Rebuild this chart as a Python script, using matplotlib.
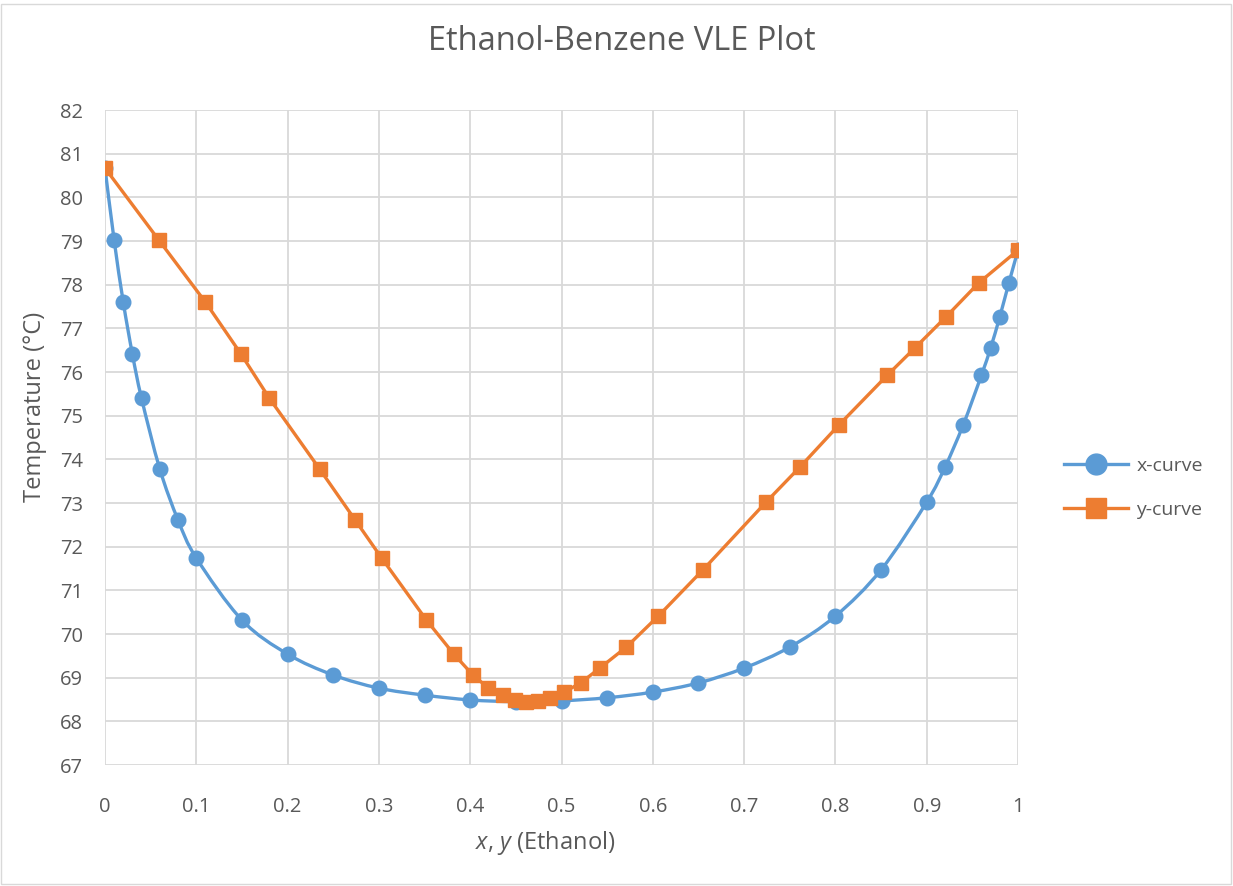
import numpy as np
import matplotlib
matplotlib.use("Agg")
import matplotlib.pyplot as plt
from matplotlib.path import Path
from matplotlib.patches import PathPatch, Rectangle
from matplotlib.lines import Line2D

plt.rcParams['font.family'] = ['Open Sans', 'DejaVu Sans']
plt.rcParams['mathtext.fontset'] = 'custom'
plt.rcParams['mathtext.it'] = 'Open Sans:italic'
plt.rcParams['mathtext.rm'] = 'Open Sans'

# data
x_liq = [0, 0.01, 0.02, 0.03, 0.04, 0.06, 0.08, 0.1, 0.15, 0.2, 0.25, 0.3, 0.35,
         0.4, 0.45, 0.5, 0.55, 0.6, 0.65, 0.7, 0.75, 0.8, 0.85, 0.9, 0.92, 0.94,
         0.96, 0.97, 0.98, 0.99, 1.0]
y_vap = [0, 0.059, 0.11, 0.149, 0.18, 0.235, 0.274, 0.303, 0.352, 0.382, 0.403,
         0.42, 0.436, 0.449, 0.461, 0.474, 0.487, 0.503, 0.521, 0.542, 0.571,
         0.606, 0.655, 0.724, 0.761, 0.804, 0.857, 0.887, 0.921, 0.957, 1.0]
temp = [80.67, 79.02, 77.6, 76.41, 75.4, 73.78, 72.61, 71.74, 70.32, 69.54,
        69.06, 68.76, 68.6, 68.49, 68.45, 68.47, 68.54, 68.67, 68.88, 69.22,
        69.7, 70.41, 71.47, 73.02, 73.82, 74.79, 75.93, 76.55, 77.26, 78.04, 78.79]
x_ticks = [0, 0.1, 0.2, 0.3, 0.4, 0.5, 0.6, 0.7, 0.8, 0.9, 1]
x_tick_labels = ['0', '0.1', '0.2', '0.3', '0.4', '0.5', '0.6', '0.7', '0.8', '0.9', '1']
y_ticks = list(range(67, 83))

blue = '#5B9BD5'
orange = '#ED7D31'
grey_txt = '#595959'


def smooth_path(xs, ys):
    # Excel-like smoothed line: Bezier segments with Catmull-Rom control points
    p = np.column_stack([xs, ys])
    n = len(p)
    verts = [p[0]]
    codes = [Path.MOVETO]
    for i in range(n - 1):
        p0 = p[i - 1] if i > 0 else p[i]
        p3 = p[i + 2] if i + 2 < n else p[i + 1]
        c1 = p[i] + (p[i + 1] - p0) / 6
        c2 = p[i + 1] - (p3 - p[i]) / 6
        verts += [c1, c2, p[i + 1]]
        codes += [Path.CURVE4] * 3
    return Path(verts, codes)


fig = plt.figure(figsize=(12.33, 8.86), dpi=100)
ax = fig.add_axes([105 / 1233, 1 - 765 / 886, 913 / 1233, 655 / 886])

ax.add_patch(PathPatch(smooth_path(x_liq, temp), facecolor='none', edgecolor=blue,
                       lw=2.4, zorder=3, capstyle='round'))
ax.plot(x_liq, temp, linestyle='none', marker='o', ms=10.5, color=blue, zorder=4)
ax.plot(y_vap, temp, color=orange, lw=2.4, marker='s', ms=10.5, zorder=5)

ax.set_xlim(0, 1)
ax.set_ylim(67, 82)
ax.set_xticks(x_ticks)
ax.set_xticklabels(x_tick_labels)
ax.set_yticks(y_ticks)
ax.grid(True, color='#d9d9d9', lw=1.3)
ax.set_axisbelow(True)
for s in ax.spines.values():
    s.set_visible(False)
ax.tick_params(length=0, labelsize=14.5, colors=grey_txt)
ax.tick_params(axis='x', pad=23)
ax.tick_params(axis='y', pad=16)

ax.set_xlabel('$x$, $y$ (Ethanol)', fontsize=17, color=grey_txt, va='center')
ax.set_ylabel('Temperature (°C)', fontsize=17, color=grey_txt, va='center')
ax.xaxis.set_label_coords(0.482, -78 / 655)
ax.yaxis.set_label_coords(-70 / 913, 358 / 655)
fig.text(622 / 1233, 1 - 41 / 886, 'Ethanol-Benzene VLE Plot', fontsize=23.5,
         color=grey_txt, ha='center', va='center')

handles = [Line2D([], [], color=blue, lw=2.4, marker='o', ms=15),
           Line2D([], [], color=orange, lw=2.4, marker='s', ms=14)]
fig.legend(handles, ['x-curve', 'y-curve'], loc='center left',
           bbox_to_anchor=(1046 / 1233, 1 - 488 / 886), frameon=False,
           fontsize=14, labelcolor=grey_txt, handlelength=3.3, labelspacing=1.35,
           handletextpad=0.45)

fig.patches.append(Rectangle((0.001, 0.002), 0.997, 0.993, transform=fig.transFigure,
                             fill=False, edgecolor='#d9d9d9', lw=1))

fig.savefig('out.png', dpi=100, facecolor='white')
